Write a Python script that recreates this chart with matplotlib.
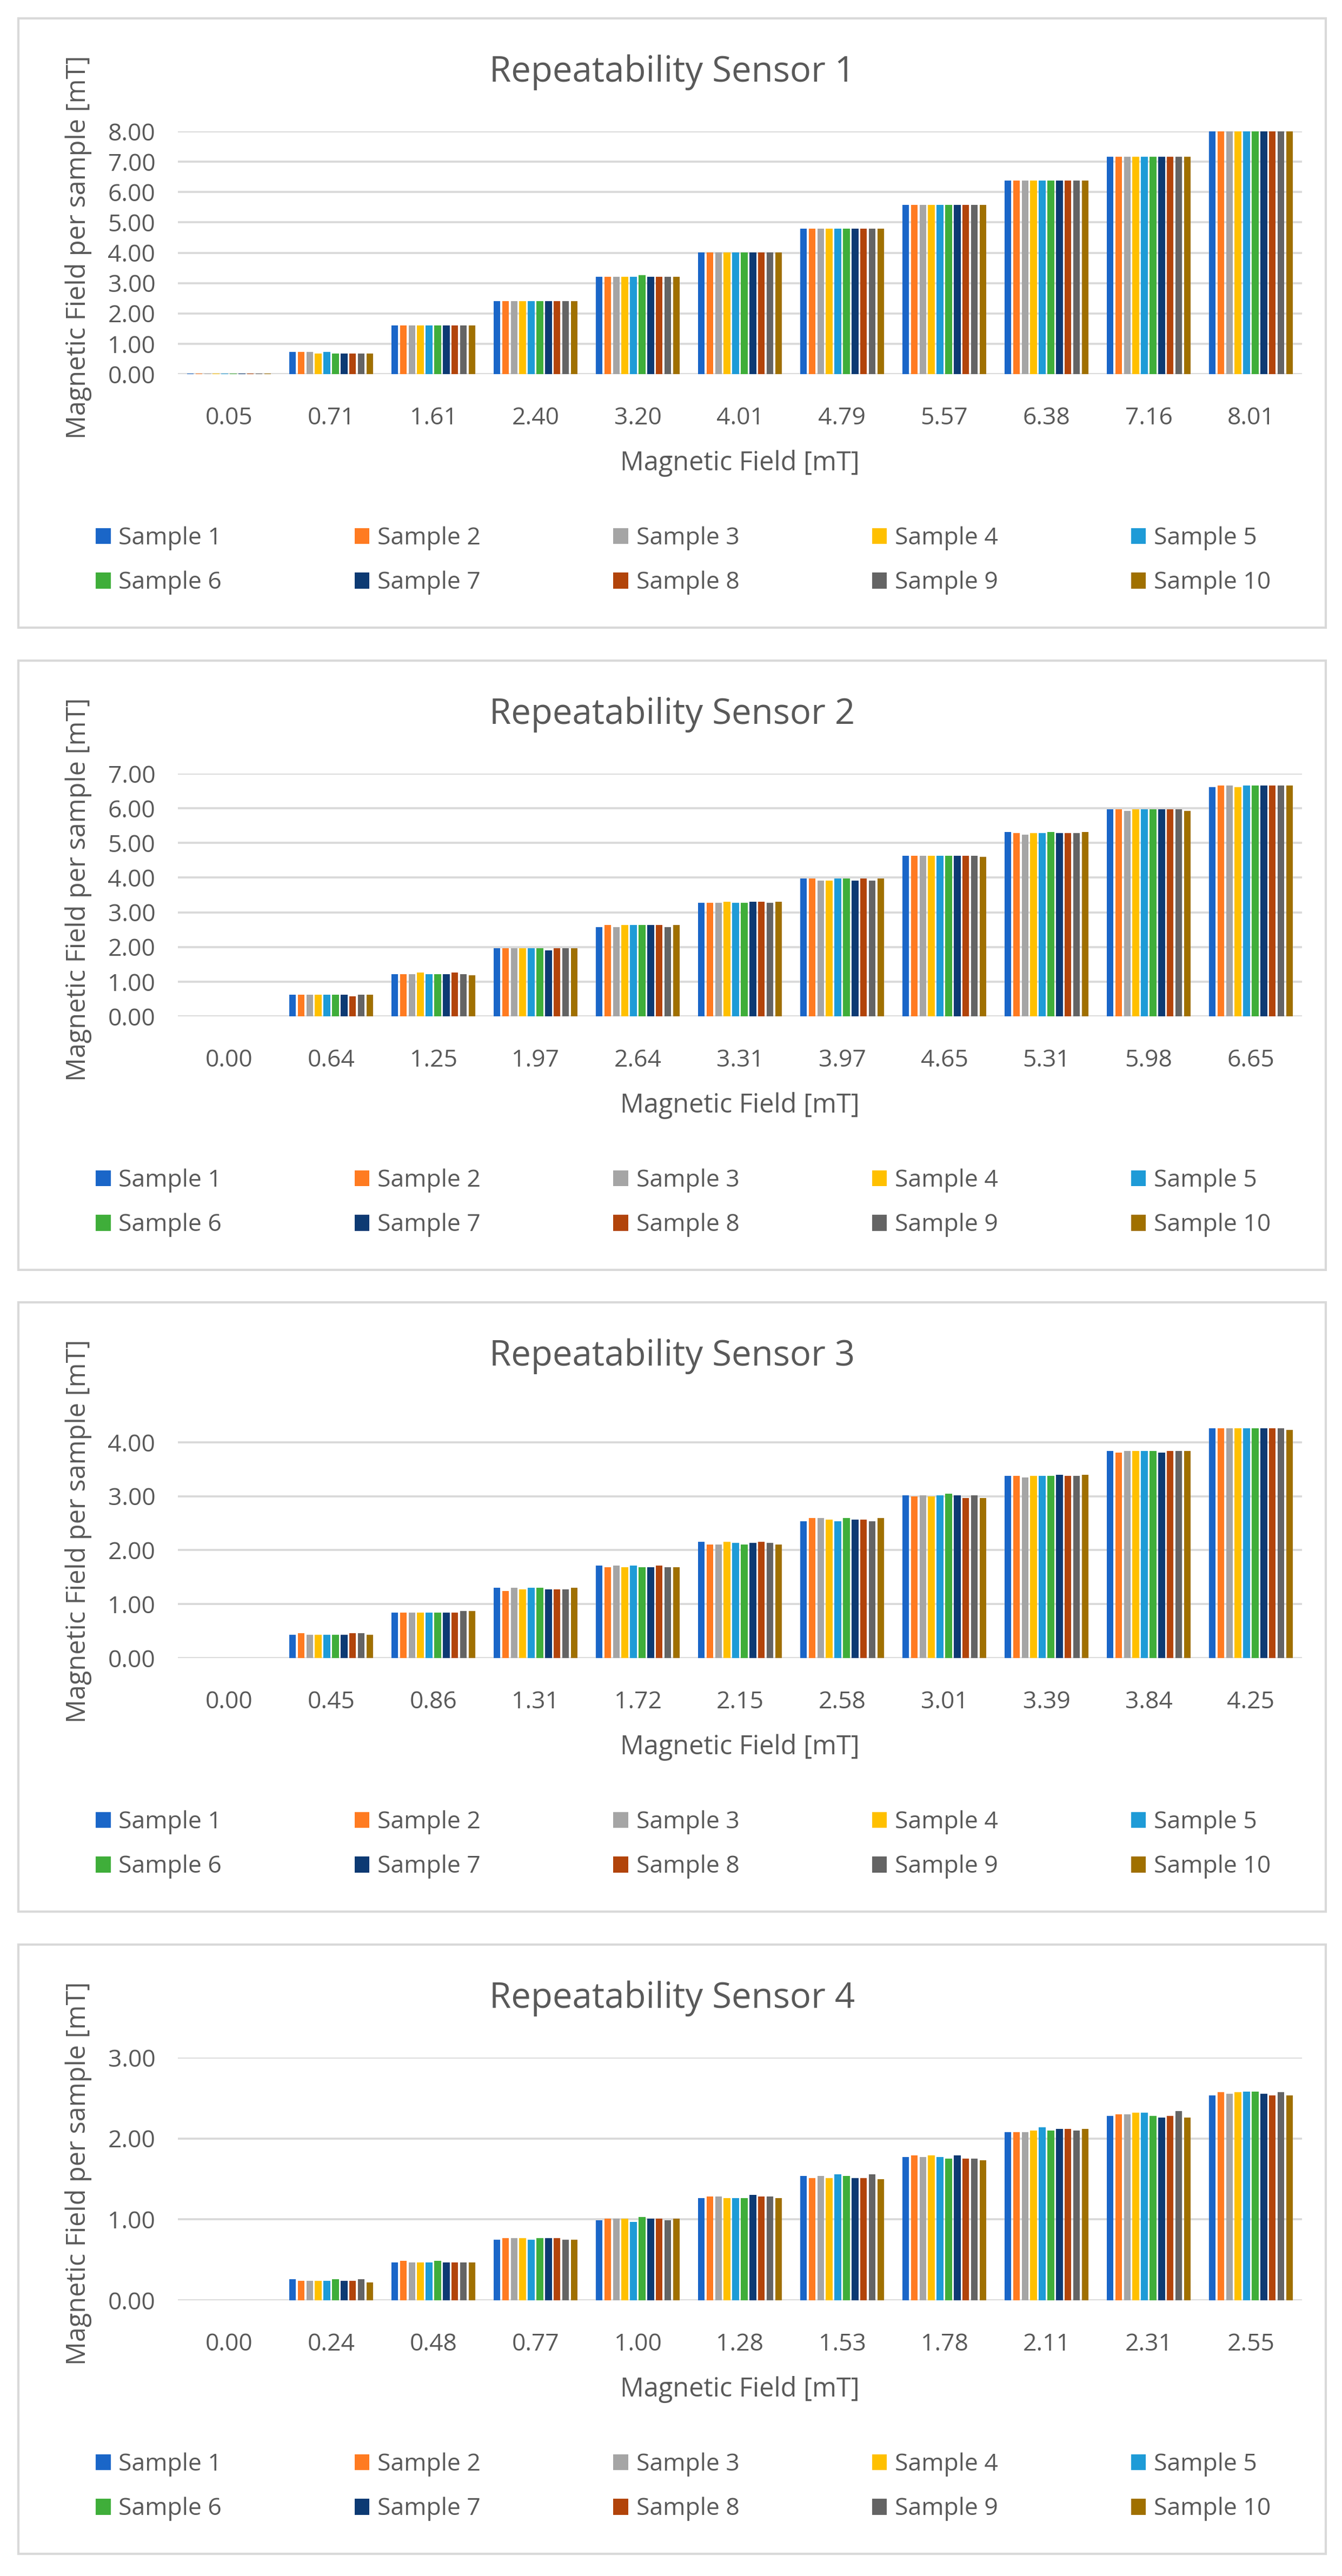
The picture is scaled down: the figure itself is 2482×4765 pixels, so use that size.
import numpy as np
import matplotlib.pyplot as plt
from matplotlib.patches import Rectangle, Patch

# %%%%%%%%%%%%%%%%%%%%%%%%%%%%%%%%%%%%%%%%%%%%%%%%%%%%%%%%%%%%%%%%%%%%%%%%%%%%%%%%%%%%%%%%%%%%%%%%%%
# ------------------------------Data------------------------------------------------------------------
# %%%%%%%%%%%%%%%%%%%%%%%%%%%%%%%%%%%%%%%%%%%%%%%%%%%%%%%%%%%%%%%%%%%%%%%%%%%%%%%%%%%%%%%%%%%%%%%%%%

samples = ["Sample %d" % i for i in range(1, 11)]
colors = ["#1a66c8", "#ff7b21", "#a5a5a5", "#ffc000", "#1e9bd7",
          "#3fae3a", "#0d3a73", "#b2440a", "#646464", "#a07000"]

# sensor 1 (rows = field, cols = sample 1..10)
s1_fields = ["0.05", "0.71", "1.61", "2.40", "3.20", "4.01", "4.79", "5.57", "6.38", "7.16", "8.01"]
s1_values = [
    [0.01, 0.01, 0.01, 0.01, 0.01, 0.01, 0.01, 0.01, 0.01, 0.01],
    [0.73, 0.73, 0.73, 0.67, 0.73, 0.68, 0.68, 0.68, 0.68, 0.68],
    [1.61, 1.61, 1.61, 1.61, 1.61, 1.61, 1.61, 1.61, 1.61, 1.61],
    [2.40, 2.40, 2.40, 2.40, 2.40, 2.40, 2.40, 2.40, 2.40, 2.40],
    [3.20, 3.20, 3.20, 3.20, 3.20, 3.26, 3.20, 3.20, 3.20, 3.20],
    [4.01, 4.01, 4.01, 4.01, 4.01, 4.01, 4.01, 4.01, 4.01, 4.01],
    [4.79, 4.79, 4.79, 4.79, 4.79, 4.79, 4.79, 4.79, 4.79, 4.79],
    [5.57, 5.57, 5.57, 5.57, 5.57, 5.57, 5.57, 5.57, 5.57, 5.57],
    [6.38, 6.38, 6.38, 6.38, 6.38, 6.38, 6.38, 6.38, 6.38, 6.38],
    [7.16, 7.16, 7.16, 7.16, 7.16, 7.16, 7.16, 7.16, 7.16, 7.16],
    [8.01, 8.01, 8.01, 8.01, 8.01, 8.01, 8.01, 8.01, 8.01, 8.01],
]

s2_fields = ["0.00", "0.64", "1.25", "1.97", "2.64", "3.31", "3.97", "4.65", "5.31", "5.98", "6.65"]
s2_values = [
    [0.00, 0.00, 0.00, 0.00, 0.00, 0.00, 0.00, 0.00, 0.00, 0.00],
    [0.62, 0.62, 0.62, 0.62, 0.62, 0.62, 0.62, 0.57, 0.62, 0.62],
    [1.22, 1.22, 1.22, 1.26, 1.22, 1.22, 1.22, 1.27, 1.22, 1.18],
    [1.96, 1.96, 1.96, 1.96, 1.96, 1.96, 1.90, 1.96, 1.96, 1.96],
    [2.58, 2.63, 2.58, 2.63, 2.63, 2.63, 2.63, 2.63, 2.58, 2.63],
    [3.28, 3.28, 3.28, 3.31, 3.28, 3.28, 3.31, 3.31, 3.27, 3.31],
    [3.97, 3.97, 3.92, 3.92, 3.97, 3.97, 3.92, 3.97, 3.92, 3.97],
    [4.63, 4.63, 4.63, 4.63, 4.63, 4.63, 4.63, 4.63, 4.63, 4.60],
    [5.32, 5.28, 5.24, 5.28, 5.28, 5.32, 5.28, 5.28, 5.28, 5.32],
    [5.97, 5.97, 5.93, 5.97, 5.97, 5.97, 5.97, 5.97, 5.97, 5.93],
    [6.61, 6.65, 6.65, 6.61, 6.65, 6.65, 6.65, 6.65, 6.65, 6.65],
]

s3_fields = ["0.00", "0.45", "0.86", "1.31", "1.72", "2.15", "2.58", "3.01", "3.39", "3.84", "4.25"]
s3_values = [
    [0.00, 0.00, 0.00, 0.00, 0.00, 0.00, 0.00, 0.00, 0.00, 0.00],
    [0.43, 0.46, 0.43, 0.43, 0.43, 0.43, 0.43, 0.46, 0.46, 0.43],
    [0.84, 0.84, 0.84, 0.84, 0.84, 0.84, 0.84, 0.84, 0.87, 0.87],
    [1.30, 1.24, 1.30, 1.27, 1.30, 1.30, 1.27, 1.27, 1.27, 1.30],
    [1.71, 1.68, 1.71, 1.68, 1.71, 1.68, 1.68, 1.71, 1.68, 1.68],
    [2.15, 2.10, 2.10, 2.15, 2.13, 2.10, 2.13, 2.15, 2.13, 2.10],
    [2.54, 2.60, 2.60, 2.57, 2.54, 2.60, 2.57, 2.57, 2.54, 2.60],
    [3.02, 3.00, 3.02, 3.00, 3.02, 3.05, 3.02, 2.97, 3.02, 2.97],
    [3.38, 3.38, 3.35, 3.38, 3.38, 3.38, 3.40, 3.38, 3.38, 3.40],
    [3.84, 3.81, 3.84, 3.84, 3.84, 3.84, 3.81, 3.84, 3.84, 3.84],
    [4.26, 4.26, 4.26, 4.26, 4.26, 4.26, 4.26, 4.26, 4.26, 4.23],
]

s4_fields = ["0.00", "0.24", "0.48", "0.77", "1.00", "1.28", "1.53", "1.78", "2.11", "2.31", "2.55"]
s4_values = [
    [0.00, 0.00, 0.00, 0.00, 0.00, 0.00, 0.00, 0.00, 0.00, 0.00],
    [0.26, 0.24, 0.24, 0.24, 0.24, 0.26, 0.24, 0.24, 0.26, 0.22],
    [0.47, 0.49, 0.47, 0.47, 0.47, 0.49, 0.47, 0.47, 0.47, 0.47],
    [0.75, 0.77, 0.77, 0.77, 0.75, 0.77, 0.77, 0.77, 0.75, 0.75],
    [0.99, 1.01, 1.01, 1.01, 0.97, 1.03, 1.01, 1.01, 0.99, 1.01],
    [1.26, 1.28, 1.28, 1.26, 1.26, 1.26, 1.30, 1.28, 1.28, 1.26],
    [1.54, 1.51, 1.54, 1.51, 1.56, 1.54, 1.51, 1.51, 1.56, 1.50],
    [1.77, 1.79, 1.77, 1.79, 1.77, 1.75, 1.79, 1.75, 1.75, 1.73],
    [2.08, 2.08, 2.08, 2.10, 2.14, 2.10, 2.12, 2.12, 2.10, 2.12],
    [2.28, 2.30, 2.30, 2.32, 2.32, 2.28, 2.26, 2.28, 2.34, 2.26],
    [2.53, 2.57, 2.55, 2.57, 2.58, 2.58, 2.55, 2.53, 2.57, 2.53],
]

titles = ["Repeatability Sensor 1", "Repeatability Sensor 2",
          "Repeatability Sensor 3", "Repeatability Sensor 4"]
y_max = [8, 7, 4.5, 3]
y_ticks = [np.arange(0, 9), np.arange(0, 8), np.arange(0, 5), np.arange(0, 4)]

# %%%%%%%%%%%%%%%%%%%%%%%%%%%%%%%%%%%%%%%%%%%%%%%%%%%%%%%%%%%%%%%%%%%%%%%%%%%%%%%%%%%%%%%%%%%%%%%%%%
# ------------------------------Layout---------------------------------------------------------------
# %%%%%%%%%%%%%%%%%%%%%%%%%%%%%%%%%%%%%%%%%%%%%%%%%%%%%%%%%%%%%%%%%%%%%%%%%%%%%%%%%%%%%%%%%%%%%%%%%%

plt.rcParams['font.family'] = ['Open Sans', 'DejaVu Sans']
txt = "#595959"
grid = "#d9d9d9"

W, H = 2482, 4765
fig = plt.figure(figsize=(W / 100, H / 100), dpi=100)
fig.patch.set_facecolor("white")

panel_tops = [34, 1222, 2409, 3597]
panel_left, panel_right, panel_h = 34, 2452, 1127
plot_left, plot_right = 329, 2408
plot_top_rel, plot_zero_rel = 209, 658


def fx(px):
    return px / W


def fy(py):
    return 1 - py / H


all_fields = [s1_fields, s2_fields, s3_fields, s4_fields]
all_values = [s1_values, s2_values, s3_values, s4_values]

n_cat = 11
n_ser = 10
step = 0.084
bar_w = 0.066

for k in range(4):
    top = panel_tops[k]
    # panel frame
    fig.patches.append(Rectangle((fx(panel_left), fy(top + panel_h)),
                                 fx(panel_right - panel_left), panel_h / H,
                                 transform=fig.transFigure, fill=False,
                                 edgecolor=grid, linewidth=3, zorder=0))

    ax = fig.add_axes([fx(plot_left), fy(top + plot_zero_rel),
                       fx(plot_right - plot_left), (plot_zero_rel - plot_top_rel) / H])
    vals = np.array(all_values[k])
    x = np.arange(n_cat)
    for i in range(n_ser):
        ax.bar(x + (i - 4.5) * step, vals[:, i], width=bar_w, color=colors[i],
               label=samples[i], zorder=3)

    ax.set_xlim(-0.5, n_cat - 0.5)
    ax.set_ylim(0, y_max[k])
    ax.set_yticks(y_ticks[k])
    ax.set_yticklabels(["%.2f" % v for v in y_ticks[k]])
    ax.set_xticks(x)
    ax.set_xticklabels(all_fields[k])
    for s in ax.spines.values():
        s.set_visible(False)
    ax.yaxis.grid(True, color=grid, linewidth=2.7, zorder=0)
    ax.set_axisbelow(True)
    ax.tick_params(axis='both', length=0, labelsize=32, colors=txt)
    ax.tick_params(axis='x', pad=43)
    ax.tick_params(axis='y', pad=30)

    fig.text(fx((panel_left + panel_right) / 2), fy(top + 117), titles[k],
             ha='center', va='baseline', fontsize=47, color=txt)
    fig.text(fx((plot_left + plot_right) / 2), fy(top + 836), "Magnetic Field [mT]",
             ha='center', va='baseline', fontsize=35, color=txt)
    fig.text(fx(145), fy(top + 423),
             "Magnetic Field per sample [mT]", rotation=90,
             ha='center', va='center', fontsize=35, color=txt)

    # legend, row-major order
    order = [0, 5, 1, 6, 2, 7, 3, 8, 4, 9]
    handles = [Patch(facecolor=colors[i]) for i in order]
    labels = [samples[i] for i in order]
    ax.legend(handles, labels, ncol=5, mode='expand', loc='center',
              bbox_to_anchor=(fx(177), fy(top + 1003 + 80), fx(2350 - 177), 160 / H),
              bbox_transform=fig.transFigure, frameon=False, fontsize=32,
              labelcolor=txt, borderpad=0, borderaxespad=0,
              handlelength=0.62, handleheight=0.65, handletextpad=0.33,
              labelspacing=0.85)

fig.savefig("out.png", dpi=100, facecolor="white")
